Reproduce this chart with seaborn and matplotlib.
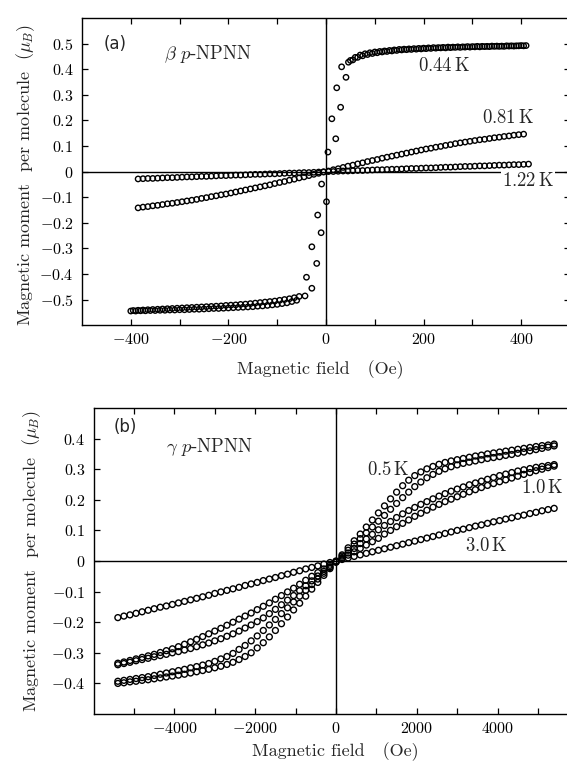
import matplotlib
matplotlib.use("Agg")
import matplotlib.pyplot as plt
import seaborn as sns

# ---------------- data: panel (a)  beta p-NPNN ----------------
FIELD_A = [-385, -375, -365, -355, -345, -335, -325, -315, -305, -295, -285, -275, -265,
           -255, -245, -235, -225, -215, -205, -195, -185, -175, -165, -155, -145, -135,
           -125, -115, -105, -95, -85, -75, -65, -55, -45, -35, -25, -15, -5,
           5, 15, 25, 35, 45, 55, 65, 75, 85, 95, 105, 115, 125, 135, 145, 155, 165, 175,
           185, 195, 205, 215, 225, 235, 245, 255, 265, 275, 285, 295, 305, 315, 325, 335,
           345, 355, 365, 375, 385, 395, 405, 415]

M_122K = [-0.029, -0.028, -0.027, -0.027, -0.026, -0.025, -0.024, -0.024, -0.023, -0.022,
          -0.021, -0.021, -0.020, -0.019, -0.019, -0.018, -0.017, -0.016, -0.016, -0.015,
          -0.014, -0.014, -0.013, -0.012, -0.011, -0.011, -0.010, -0.009, -0.009, -0.008,
          -0.007, -0.006, -0.006, -0.005, -0.004, -0.004, -0.003, -0.002, -0.001,
          0.000, 0.000, 0.001, 0.002, 0.002, 0.003, 0.004, 0.004, 0.005, 0.006, 0.007,
          0.007, 0.008, 0.009, 0.009, 0.010, 0.011, 0.012, 0.012, 0.013, 0.014, 0.014,
          0.015, 0.016, 0.017, 0.017, 0.018, 0.019, 0.020, 0.020, 0.021, 0.022, 0.022,
          0.023, 0.024, 0.025, 0.025, 0.026, 0.027, 0.027, 0.028, 0.029]

M_081K = [-0.142, -0.139, -0.137, -0.134, -0.132, -0.129, -0.126, -0.124, -0.121, -0.118,
          -0.115, -0.112, -0.109, -0.105, -0.102, -0.098, -0.095, -0.091, -0.088, -0.084,
          -0.080, -0.076, -0.072, -0.068, -0.064, -0.060, -0.056, -0.052, -0.047, -0.043,
          -0.039, -0.034, -0.030, -0.025, -0.021, -0.016, -0.011, -0.007, -0.002,
          0.002, 0.007, 0.011, 0.016, 0.021, 0.025, 0.030, 0.034, 0.039, 0.043, 0.047,
          0.052, 0.056, 0.060, 0.064, 0.068, 0.072, 0.076, 0.080, 0.084, 0.088, 0.091,
          0.095, 0.098, 0.102, 0.105, 0.109, 0.112, 0.115, 0.118, 0.121, 0.124, 0.126,
          0.129, 0.132, 0.134, 0.137, 0.139, 0.142, 0.144, 0.146]

FIELD_044K = [
    # jump region
    46, 32, 41, 22, 30, 12, 20, 4, -9, 1, -17, -10, -29, -19, -40, -29, -43,
    # positive plateau, sweep 1
    50, 60, 70, 80, 90, 100, 110, 120, 130, 140, 150, 160, 170, 180, 190, 200, 210, 220,
    230, 240, 250, 260, 270, 280, 290, 300, 310, 320, 330, 340, 350, 360, 370, 380, 390,
    400, 410,
    # positive plateau, sweep 2
    55, 65, 75, 85, 95, 105, 115, 125, 135, 145, 155, 165, 175, 185, 195, 205, 215, 225,
    235, 245, 255, 265, 275, 285, 295, 305, 315, 325, 335, 345, 355, 365, 375, 385, 395,
    405,
    # negative plateau, sweep 1
    -400, -390, -380, -370, -360, -350, -340, -330, -320, -310, -300, -290, -280, -270,
    -260, -250, -240, -230, -220, -210, -200, -190, -180, -170, -160, -150, -140, -130,
    -120, -110, -100, -90, -80, -70, -60,
    # negative plateau, sweep 2
    -395, -385, -375, -365, -355, -345, -335, -325, -315, -305, -295, -285, -275, -265,
    -255, -245, -235, -225, -215, -205, -195, -185, -175, -165, -155, -145, -135, -125,
    -115, -105, -95, -85, -75, -65, -55]

M_044K = [
    0.427, 0.409, 0.368, 0.327, 0.251, 0.206, 0.128, 0.076, -0.049, -0.118, -0.170,
    -0.239, -0.294, -0.359, -0.413, -0.456, -0.486,
    0.434, 0.446, 0.455, 0.460, 0.464, 0.467, 0.469, 0.471, 0.473, 0.475, 0.477, 0.478,
    0.479, 0.480, 0.481, 0.482, 0.483, 0.484, 0.484, 0.485, 0.486, 0.486, 0.487, 0.487,
    0.488, 0.488, 0.489, 0.489, 0.489, 0.490, 0.490, 0.490, 0.491, 0.491, 0.491, 0.492,
    0.492,
    0.436, 0.446, 0.452, 0.457, 0.461, 0.464, 0.467, 0.469, 0.471, 0.473, 0.475, 0.476,
    0.477, 0.478, 0.479, 0.480, 0.481, 0.482, 0.483, 0.483, 0.484, 0.485, 0.485, 0.486,
    0.486, 0.487, 0.487, 0.488, 0.488, 0.489, 0.489, 0.489, 0.490, 0.490, 0.491, 0.491,
    -0.545, -0.545, -0.544, -0.544, -0.543, -0.543, -0.542, -0.542, -0.541, -0.541,
    -0.540, -0.540, -0.539, -0.538, -0.538, -0.537, -0.536, -0.535, -0.535, -0.534,
    -0.533, -0.532, -0.531, -0.530, -0.529, -0.528, -0.526, -0.525, -0.523, -0.521,
    -0.519, -0.516, -0.513, -0.508, -0.503,
    -0.543, -0.542, -0.541, -0.540, -0.539, -0.538, -0.537, -0.536, -0.535, -0.534,
    -0.533, -0.532, -0.531, -0.530, -0.529, -0.528, -0.527, -0.526, -0.525, -0.523,
    -0.522, -0.521, -0.519, -0.518, -0.516, -0.514, -0.512, -0.510, -0.508, -0.506,
    -0.503, -0.500, -0.497, -0.493, -0.488]

# ---------------- data: panel (b)  gamma p-NPNN ----------------
FIELD_B = [-5400, -5250, -5100, -4950, -4800, -4650, -4500, -4350, -4200, -4050, -3900,
           -3750, -3600, -3450, -3300, -3150, -3000, -2850, -2700, -2550, -2400, -2250,
           -2100, -1950, -1800, -1650, -1500, -1350, -1200, -1050, -900, -750, -600, -450,
           -300, -150, 0, 150, 300, 450, 600, 750, 900, 1050, 1200, 1350, 1500, 1650, 1800,
           1950, 2100, 2250, 2400, 2550, 2700, 2850, 3000, 3150, 3300, 3450, 3600, 3750,
           3900, 4050, 4200, 4350, 4500, 4650, 4800, 4950, 5100, 5250, 5400]

M_05K_A = [-0.400, -0.398, -0.395, -0.393, -0.390, -0.388, -0.385, -0.382, -0.379, -0.376,
           -0.373, -0.370, -0.366, -0.362, -0.358, -0.354, -0.349, -0.344, -0.338, -0.331,
           -0.322, -0.312, -0.300, -0.284, -0.267, -0.248, -0.227, -0.205, -0.183, -0.160,
           -0.138, -0.115, -0.092, -0.070, -0.047, -0.025, -0.002, 0.020, 0.043, 0.066,
           0.088, 0.111, 0.134, 0.157, 0.180, 0.203, 0.225, 0.246, 0.264, 0.279, 0.291,
           0.301, 0.309, 0.316, 0.322, 0.327, 0.331, 0.335, 0.339, 0.343, 0.346, 0.350,
           0.353, 0.356, 0.359, 0.362, 0.365, 0.368, 0.371, 0.374, 0.377, 0.379, 0.382]

M_05K_B = [-0.393, -0.390, -0.387, -0.384, -0.381, -0.378, -0.374, -0.370, -0.366, -0.362,
           -0.358, -0.354, -0.349, -0.345, -0.340, -0.335, -0.328, -0.320, -0.312, -0.302,
           -0.289, -0.276, -0.261, -0.245, -0.227, -0.209, -0.191, -0.172, -0.153, -0.134,
           -0.115, -0.096, -0.077, -0.059, -0.040, -0.021, -0.002, 0.016, 0.035, 0.055,
           0.073, 0.092, 0.111, 0.130, 0.149, 0.169, 0.188, 0.207, 0.225, 0.243, 0.258,
           0.272, 0.283, 0.293, 0.301, 0.308, 0.314, 0.319, 0.323, 0.327, 0.331, 0.335,
           0.338, 0.341, 0.345, 0.348, 0.352, 0.356, 0.360, 0.364, 0.368, 0.372, 0.376]

M_10K_A = [-0.339, -0.335, -0.331, -0.326, -0.322, -0.318, -0.313, -0.309, -0.305, -0.300,
           -0.296, -0.291, -0.286, -0.280, -0.274, -0.268, -0.261, -0.254, -0.246, -0.238,
           -0.229, -0.219, -0.209, -0.198, -0.186, -0.172, -0.158, -0.143, -0.128, -0.113,
           -0.097, -0.081, -0.065, -0.049, -0.034, -0.019, -0.004, 0.011, 0.026, 0.041,
           0.057, 0.072, 0.087, 0.102, 0.116, 0.129, 0.142, 0.154, 0.165, 0.175, 0.185,
           0.194, 0.203, 0.212, 0.220, 0.228, 0.235, 0.242, 0.249, 0.255, 0.261, 0.267,
           0.273, 0.279, 0.284, 0.289, 0.294, 0.298, 0.302, 0.306, 0.309, 0.312, 0.315]

M_10K_B = [-0.334, -0.330, -0.325, -0.320, -0.315, -0.310, -0.305, -0.299, -0.293, -0.287,
           -0.280, -0.272, -0.264, -0.256, -0.247, -0.238, -0.229, -0.220, -0.210, -0.200,
           -0.190, -0.180, -0.170, -0.159, -0.148, -0.137, -0.125, -0.113, -0.101, -0.089,
           -0.076, -0.063, -0.050, -0.038, -0.026, -0.014, -0.003, 0.008, 0.019, 0.030,
           0.041, 0.052, 0.063, 0.074, 0.088, 0.100, 0.112, 0.123, 0.134, 0.146, 0.156,
           0.166, 0.176, 0.185, 0.194, 0.202, 0.210, 0.218, 0.226, 0.233, 0.240, 0.247,
           0.253, 0.259, 0.265, 0.271, 0.277, 0.283, 0.289, 0.295, 0.300, 0.305, 0.310]

M_30K = [-0.185, -0.180, -0.176, -0.171, -0.166, -0.161, -0.156, -0.151, -0.147, -0.142,
         -0.137, -0.132, -0.127, -0.122, -0.117, -0.112, -0.106, -0.101, -0.096, -0.091,
         -0.086, -0.080, -0.075, -0.070, -0.064, -0.059, -0.054, -0.048, -0.043, -0.037,
         -0.032, -0.026, -0.021, -0.016, -0.010, -0.005, 0.000, 0.005, 0.010, 0.015,
         0.020, 0.025, 0.030, 0.035, 0.040, 0.045, 0.050, 0.055, 0.060, 0.065, 0.070,
         0.075, 0.080, 0.085, 0.090, 0.095, 0.100, 0.104, 0.109, 0.114, 0.118, 0.123,
         0.128, 0.132, 0.137, 0.141, 0.146, 0.150, 0.155, 0.159, 0.164, 0.168, 0.172]

# ---------------- ticks ----------------
A_XTICKS = [-400, -200, 0, 200, 400]
A_XLABELS = ["$-400$", "$-200$", "$0$", "$200$", "$400$"]
A_XMINOR = [-300, -100, 100, 300]
A_YTICKS = [0.5, 0.4, 0.3, 0.2, 0.1, 0.0, -0.1, -0.2, -0.3, -0.4, -0.5]
A_YLABELS = ["$0.5$", "$0.4$", "$0.3$", "$0.2$", "$0.1$", "$0$", "$-0.1$", "$-0.2$",
             "$-0.3$", "$-0.4$", "$-0.5$"]
B_XTICKS = [-4000, -2000, 0, 2000, 4000]
B_XLABELS = ["$-4000$", "$-2000$", "$0$", "$2000$", "$4000$"]
B_XMINOR = [-5000, -3000, -1000, 1000, 3000, 5000]
B_YTICKS = [0.4, 0.3, 0.2, 0.1, 0.0, -0.1, -0.2, -0.3, -0.4]
B_YLABELS = ["$0.4$", "$0.3$", "$0.2$", "$0.1$", "$0$", "$-0.1$", "$-0.2$", "$-0.3$", "$-0.4$"]

XLABEL = "Magnetic field   (Oe)"
YLABEL = "Magnetic moment  per molecule  ($\\mu_B$)"

# ---------------- style ----------------
sns.set_theme(style="ticks")
plt.rcParams["font.family"] = ["cmr10", "DejaVu Serif"]
plt.rcParams["mathtext.fontset"] = "cm"
plt.rcParams["axes.unicode_minus"] = False
plt.rcParams["axes.linewidth"] = 1.0

fig = plt.figure(figsize=(5.67, 7.63), dpi=100)
axA = fig.add_axes([0.1446, 0.5739, 0.8607, 0.4026])
axB = fig.add_axes([0.1651, 0.0642, 0.855, 0.4011])


def dots(ax, x, y, s):
    sns.scatterplot(x=x, y=y, ax=ax, marker="o", s=s, facecolor="none",
                    edgecolor="black", linewidth=1.0, legend=False, zorder=3)


def frame(ax, xt, xl, xm, yt, yl):
    ax.axhline(0, color="black", lw=1.0, zorder=1)
    ax.axvline(0, color="black", lw=1.0, zorder=1)
    ax.set_xticks(xt)
    ax.set_xticklabels(xl)
    ax.set_xticks(xm, minor=True)
    ax.set_yticks(yt)
    ax.set_yticklabels(yl)
    ax.tick_params(which="both", direction="in", top=True, right=True,
                   length=4.5, width=0.9, labelsize=11.5, colors="black")
    ax.tick_params(axis="x", which="both", pad=5)
    ax.tick_params(axis="y", which="both", pad=6)
    for sp in ax.spines.values():
        sp.set_linewidth(1.0)
        sp.set_color("black")


# panel (a)
dots(axA, FIELD_A, M_122K, 15)
dots(axA, FIELD_A[:len(M_081K)], M_081K, 15)
dots(axA, FIELD_044K, M_044K, 15)
axA.set_xlim(-500, 500)
axA.set_ylim(-0.6, 0.6)
frame(axA, A_XTICKS, A_XLABELS, A_XMINOR, A_YTICKS, A_YLABELS)
axA.set_xlabel(XLABEL, fontsize=13)
axA.set_ylabel(YLABEL, fontsize=13)
axA.xaxis.set_label_coords(0.488, -0.113)
axA.yaxis.set_label_coords(-0.093, 0.49)
axA.text(-433, 0.5, "(a)", family="DejaVu Sans", fontsize=12, ha="center", va="center")
axA.text(-242, 0.459, r"$\beta\ p$-NPNN", fontsize=13.5, ha="center", va="center")
axA.text(242, 0.412, r"$0.44\,\mathrm{K}$", fontsize=13.5, ha="center", va="center")
axA.text(373, 0.209, r"$0.81\,\mathrm{K}$", fontsize=13.5, ha="center", va="center")
axA.text(414, -0.037, r"$1.22\,\mathrm{K}$", fontsize=13.5, ha="center", va="center",
         bbox=dict(facecolor="white", edgecolor="none", pad=0.5), zorder=4)

# panel (b)
dots(axB, FIELD_B, M_30K, 18)
dots(axB, FIELD_B, M_10K_A, 18)
dots(axB, FIELD_B, M_10K_B, 18)
dots(axB, FIELD_B, M_05K_A, 18)
dots(axB, FIELD_B, M_05K_B, 18)
axB.set_xlim(-6000, 6000)
axB.set_ylim(-0.5, 0.5)
frame(axB, B_XTICKS, B_XLABELS, B_XMINOR, B_YTICKS, B_YLABELS)
axB.set_xlabel(XLABEL, fontsize=13)
axB.set_ylabel(YLABEL, fontsize=13)
axB.xaxis.set_label_coords(0.498, -0.093)
axB.yaxis.set_label_coords(-0.105, 0.5)
axB.text(-5223, 0.438, "(b)", family="DejaVu Sans", fontsize=12, ha="center", va="center")
axB.text(-3119, 0.373, r"$\gamma\ p$-NPNN", fontsize=13.5, ha="center", va="center")
axB.text(1287, 0.297, r"$0.5\,\mathrm{K}$", fontsize=13.5, ha="center", va="center")
axB.text(5640, 0.239, r"$1.0\,\mathrm{K}$", fontsize=13.5, ha="right", va="center")
axB.text(3713, 0.049, r"$3.0\,\mathrm{K}$", fontsize=13.5, ha="center", va="center")

fig.savefig("out.png", dpi=100)
